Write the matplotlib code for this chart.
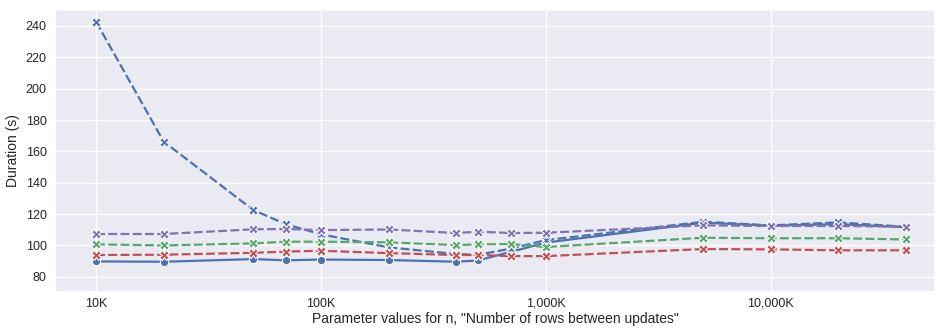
import matplotlib
matplotlib.use("Agg")
import matplotlib.pyplot as plt
import matplotlib.ticker as mticker
import seaborn as sns
import numpy as np

sns.set_theme(style="darkgrid")
plt.rcParams['font.family'] = ['Liberation Sans', 'DejaVu Sans']

# rows between updates
n_all = [10e3, 20e3, 50e3, 70e3, 100e3, 200e3, 400e3, 500e3, 700e3,
         1e6, 5e6, 10e6, 20e6, 40e6]
n_solid = [10e3, 20e3, 50e3, 70e3, 100e3, 200e3, 400e3, 500e3,
           1e6, 5e6, 10e6, 20e6, 40e6]

blue_solid = [89.8, 89.6, 91.3, 90.5, 91.0, 90.7, 89.6, 90.4,
              101.8, 114.5, 112.6, 113.6, 111.6]
blue_dashed = [242.7, 166.2, 122.6, 113.5, 107.1, 98.8, 94.5, 94.0, 98.0,
               103.4, 115.1, 112.8, 114.7, 111.9]
purple = [107.3, 107.3, 110.3, 110.5, 109.8, 110.2, 107.9, 108.8, 107.9,
          108.1, 112.8, 112.4, 112.4, 112.0]
green = [100.7, 100.0, 101.3, 102.4, 102.4, 102.0, 100.2, 100.7, 100.9,
         99.0, 104.9, 104.6, 104.6, 103.8]
red = [93.9, 94.1, 95.3, 96.1, 96.6, 95.1, 93.9, 93.9, 93.2,
       93.2, 97.7, 97.5, 96.9, 96.9]

pal = sns.color_palette("deep")
fig = plt.figure(figsize=(9.37, 3.30), dpi=100)
ax = fig.add_axes([55/937, 38/330, 880/937, 282/330])

dash = (4, 1.5)
kw = dict(lw=1.6, mec='white', mew=0.75)
ax.plot(n_solid, blue_solid, color=pal[0], marker='o', ls='-', ms=6, **kw)
ax.plot(n_all, blue_dashed, color=pal[0], marker='X', dashes=dash, ms=6.5, **kw)
ax.plot(n_all, green, color=pal[2], marker='X', dashes=dash, ms=6.5, **kw)
ax.plot(n_all, red, color=pal[3], marker='X', dashes=dash, ms=6.5, **kw)
ax.plot(n_all, purple, color=pal[4], marker='X', dashes=dash, ms=6.5, **kw)

ax.set_xscale('log')
ax.set_xlim(10**3.8174, 10**7.731)
ax.set_ylim(70.3, 250.2)
ax.xaxis.set_major_formatter(mticker.FuncFormatter(lambda v, p: f"{v/1000:,.0f}K"))
ax.xaxis.set_minor_locator(mticker.NullLocator())
ax.set_yticks(np.arange(80, 241, 20))
ax.tick_params(labelsize=9, colors='#262626', length=0)
ax.tick_params(axis='x', pad=4)
ax.tick_params(axis='y', pad=6)
ax.set_xlabel('Parameter values for n, "Number of rows between updates"', fontsize=10, labelpad=2)
ax.set_ylabel('Duration (s)', fontsize=10, labelpad=4)

fig.savefig("out.png", dpi=100)
